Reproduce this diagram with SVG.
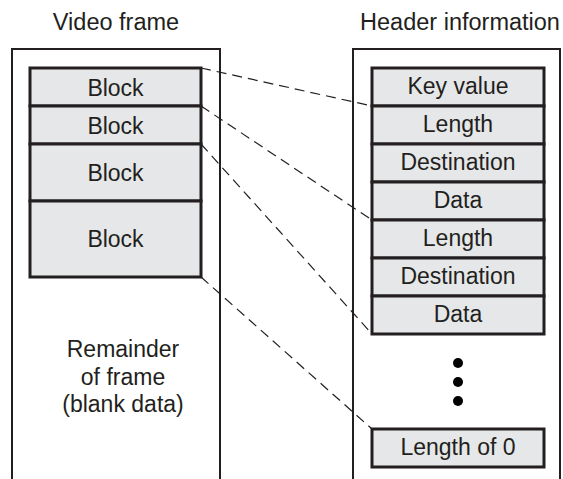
<svg xmlns="http://www.w3.org/2000/svg" width="563" height="479" viewBox="0 0 563 479">
  <style>
    .frame { fill: none; stroke: #231f20; stroke-width: 2; }
    .cell { fill: #e6e7e8; stroke: #231f20; stroke-width: 3; }
    .lbl { font-family: "Liberation Sans", Arial, sans-serif; font-size: 23px; fill: #231f20; text-anchor: middle; }
    .title { font-size: 23.5px; }
    .link { fill: none; stroke: #231f20; stroke-width: 1.2; stroke-dasharray: 10 6; }
    .dot { fill: #000; }
  </style>
  <rect width="563" height="479" fill="#fff"/>

  <!-- column titles -->
  <text class="lbl title" x="116" y="30">Video frame</text>
  <text class="lbl title" x="460" y="30">Header information</text>

  <!-- video frame column -->
  <g id="video-frame">
    <path class="frame" d="M12,479 V49 H220 V479"/>
    <text class="lbl" x="123" y="357">Remainder</text>
    <text class="lbl" x="123" y="385">of frame</text>
    <text class="lbl" x="123" y="412">(blank data)</text>
  </g>
  <g id="block-1">
    <rect class="cell" x="30" y="68" width="171" height="38"/>
    <text class="lbl" x="115.5" y="96">Block</text>
  </g>
  <g id="block-2">
    <rect class="cell" x="30" y="106" width="171" height="38"/>
    <text class="lbl" x="115.5" y="134">Block</text>
  </g>
  <g id="block-3">
    <rect class="cell" x="30" y="144" width="171" height="57"/>
    <text class="lbl" x="115.5" y="181">Block</text>
  </g>
  <g id="block-4">
    <rect class="cell" x="30" y="201" width="171" height="76"/>
    <text class="lbl" x="115.5" y="247">Block</text>
  </g>

  <!-- header information column -->
  <g id="header-information">
    <path class="frame" d="M353,479 V49 H560 V479"/>
  </g>
  <g id="key-value">
    <rect class="cell" x="372" y="68" width="172" height="38"/>
    <text class="lbl" x="458" y="94">Key value</text>
  </g>
  <g id="length-1">
    <rect class="cell" x="372" y="106" width="172" height="38"/>
    <text class="lbl" x="458" y="132">Length</text>
  </g>
  <g id="destination-1">
    <rect class="cell" x="372" y="144" width="172" height="38"/>
    <text class="lbl" x="458" y="170">Destination</text>
  </g>
  <g id="data-1">
    <rect class="cell" x="372" y="182" width="172" height="38"/>
    <text class="lbl" x="458" y="208">Data</text>
  </g>
  <g id="length-2">
    <rect class="cell" x="372" y="220" width="172" height="38"/>
    <text class="lbl" x="458" y="246">Length</text>
  </g>
  <g id="destination-2">
    <rect class="cell" x="372" y="258" width="172" height="38"/>
    <text class="lbl" x="458" y="284">Destination</text>
  </g>
  <g id="data-2">
    <rect class="cell" x="372" y="296" width="172" height="38"/>
    <text class="lbl" x="458" y="322">Data</text>
  </g>
  <g id="ellipsis">
    <circle class="dot" cx="458" cy="363" r="5"/>
    <circle class="dot" cx="458" cy="382" r="5"/>
    <circle class="dot" cx="458" cy="401" r="5"/>
  </g>
  <g id="length-of-0">
    <rect class="cell" x="372" y="429" width="172" height="38"/>
    <text class="lbl" x="458" y="455">Length of 0</text>
  </g>

  <!-- dashed mapping lines -->
  <g id="connectors">
    <line class="link" x1="201" y1="68" x2="372" y2="106"/>
    <line class="link" x1="201" y1="106" x2="372" y2="220"/>
    <line class="link" x1="201" y1="144" x2="372" y2="334"/>
    <line class="link" x1="201" y1="277" x2="372" y2="429"/>
  </g>
</svg>
